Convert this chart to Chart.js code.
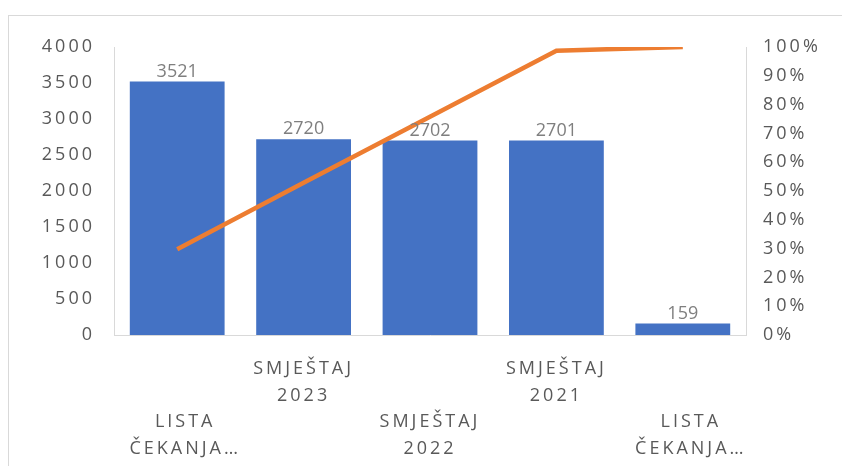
<!DOCTYPE html>
<html>
<head>
<meta charset="utf-8">
<script src="https://cdn.jsdelivr.net/npm/chart.js@4"></script>
<style>
  html, body { margin: 0; padding: 0; background: #fff; }
  #wrap { width: 842px; height: 466px; position: relative; }
</style>
</head>
<body>
<div id="wrap"><canvas id="c" width="842" height="466"></canvas></div>
<script>
const categories = [
  ['', '', 'LISTA', 'ČEKANJA…'],
  ['SMJEŠTAJ', '2023'],
  ['', '', 'SMJEŠTAJ', '2022'],
  ['SMJEŠTAJ', '2021'],
  ['', '', 'LISTA', 'ČEKANJA…']
];
const barValues = [3521, 2720, 2702, 2701, 159];
const cumulativePercent = [29.8, 52.9, 75.8, 98.7, 100];

const FONT = '"Open Sans", "DejaVu Sans", sans-serif';
const TRUNCATED_LABEL_SHIFT = 8;

const framePlugin = {
  id: 'frame',
  beforeDraw(chart) {
    const ctx = chart.ctx;
    ctx.save();
    ctx.strokeStyle = '#d9d9d9';
    ctx.lineWidth = 1;
    ctx.strokeRect(8.5, 15.5, 900, 600);
    ctx.restore();
    ctx.letterSpacing = '3px';
    const items = chart.scales.x.getLabelItems();
    items.forEach(it => {
      if (Array.isArray(it.label) && it.label[2] === 'LISTA' && !it._shifted) {
        it.options.translation[0] += TRUNCATED_LABEL_SHIFT;
        it._shifted = true;
      }
    });
  }
};

const labelPlugin = {
  id: 'barLabels',
  afterDatasetsDraw(chart) {
    const ctx = chart.ctx;
    const meta = chart.getDatasetMeta(1);
    ctx.save();
    ctx.letterSpacing = '0px';
    ctx.font = '18px ' + FONT;
    ctx.fillStyle = '#7f7f7f';
    ctx.textAlign = 'center';
    ctx.textBaseline = 'bottom';
    meta.data.forEach((bar, i) => {
      ctx.fillText(String(barValues[i]), bar.x, bar.y - 1);
    });
    ctx.restore();
  }
};

const chart = new Chart(document.getElementById('c'), {
  data: {
    labels: categories,
    datasets: [
      {
        type: 'line',
        data: cumulativePercent,
        yAxisID: 'y1',
        borderColor: '#ED7D31',
        borderWidth: 4.5,
        pointRadius: 0,
        tension: 0,
        order: 0
      },
      {
        type: 'bar',
        data: barValues,
        yAxisID: 'y',
        backgroundColor: '#4472C4',
        categoryPercentage: 1,
        barPercentage: 0.75,
        order: 1
      }
    ]
  },
  options: {
    responsive: false,
    animation: false,
    devicePixelRatio: 1,
    layout: { padding: { top: 47, left: 0, right: 0, bottom: 0 } },
    plugins: { legend: { display: false }, tooltip: { enabled: false } },
    scales: {
      x: {
        grid: { display: false, drawTicks: false },
        border: { display: true, color: '#d9d9d9', width: 1 },
        ticks: {
          autoSkip: false, maxRotation: 0, minRotation: 0,
          padding: 21,
          color: '#595959',
          font: { family: FONT, size: 18, lineHeight: 1.47 }
        },
        afterFit(s) { s.height = 131; }
      },
      y: {
        position: 'left',
        min: 0, max: 4000,
        grid: { display: false, drawTicks: false },
        border: { display: true, color: '#d9d9d9', width: 1 },
        ticks: {
          stepSize: 500,
          padding: 19,
          color: '#595959',
          font: { family: FONT, size: 18 },
          callback: v => String(v)
        },
        afterFit(s) { s.width = 114; }
      },
      y1: {
        position: 'right',
        min: 0, max: 100,
        grid: { display: false, drawTicks: false },
        border: { display: true, color: '#d9d9d9', width: 1 },
        ticks: {
          stepSize: 10,
          padding: 17,
          color: '#595959',
          font: { family: FONT, size: 18 },
          callback: v => v + '%'
        },
        afterFit(s) { s.width = 96; }
      }
    }
  },
  plugins: [framePlugin, labelPlugin]
});
</script>
</body>
</html>
